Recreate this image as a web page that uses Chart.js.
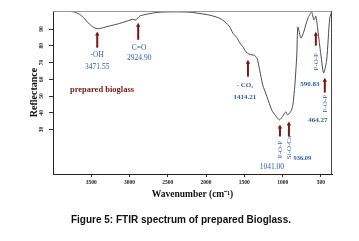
<!DOCTYPE html>
<html lang="en">
<head>
<meta charset="UTF-8">
<title>FTIR spectrum</title>
<script src="https://cdn.jsdelivr.net/npm/chart.js"></script>
<style>
  body { margin: 0; background: #fff; }
  #wrap { position: relative; width: 359px; height: 241px; }
  #caption {
    position: absolute; left: 0; width: 362px; top: 214px;
    text-align: center; font: bold 10px "Liberation Sans", Arial, sans-serif; color: #111;
  }
</style>
</head>
<body>
<div id="wrap">
  <canvas id="chart" width="359" height="241"></canvas>
  <div id="caption">Figure 5: FTIR spectrum of prepared Bioglass.</div>
</div>
<script>
// spectrum
const wavenumbers = [4000, 3900, 3780, 3710, 3640, 3600, 3550, 3500, 3470, 3420, 3380, 3340, 3250, 3160,
  3030, 2960, 2925, 2900, 2860, 2730, 2600, 2400, 2210, 2080, 1950, 1820, 1750, 1690, 1650, 1600,
  1560, 1520, 1480, 1440, 1400, 1370, 1335, 1300, 1260, 1205, 1140, 1090, 1041, 1000, 960, 936,
  895, 866, 840, 815, 800, 762, 725, 670, 620, 592, 566, 540, 500, 464, 425, 385, 360];
const reflectance = [100.6, 100.6, 100.5, 100.1, 98.4, 96.8, 94.2, 92.0, 91.0, 90.2, 90.4, 90.9, 92.0, 93.0,
  94.8, 95.9, 95.4, 96.3, 97.9, 99.3, 100.1, 100.3, 100.1, 99.3, 98.3, 96.4, 94.2, 91.2, 87.6, 85.0,
  81.8, 79.5, 76.5, 75.1, 74.6, 74.4, 72.6, 65.6, 56.7, 49.7, 41.5, 38.2, 35.8, 38.0, 40.6, 38.8,
  40.6, 44.8, 56.7, 74.5, 91.2, 84.6, 88.2, 96.5, 100.1, 95.4, 97.7, 89.4, 74.5, 63.8, 71.5, 96.5, 100.3];

const xTicks = [3500, 3000, 2500, 2000, 1500, 1000, 500];
const yTicks = [30, 40, 50, 60, 70, 80, 90];

// arrows: wavenumber, tail value, head value
const arrows = [
  [3422, 78.9, 88.6],
  [2887, 83.6, 93.8],
  [1453, 61.6, 71.7],
  [566, 80.1, 88.4],
  [449, 52.1, 61.0],
  [1035, 25.9, 33.0],
  [918, 25.9, 34.8]
];
// labels: text, wavenumber, value, rotated, font
const labels = [
  ['-OH', 3422, 74.7, false, '7.5px'],
  ['3471.55', 3422, 67.6, false, '7.5px'],
  ['C=O', 2874, 78.9, false, '7.5px'],
  ['2924.90', 2874, 72.9, false, '7.5px'],
  ['- CO\u2082', 1492, 56.8, false, 'bold 7px'],
  ['1414.21', 1492, 49.1, false, 'bold 7px'],
  ['P-O-P', 566, 70.5, true, '7px'],
  ['590.83', 644, 57.4, false, 'bold 7px'],
  ['P-O-P', 449, 45.5, true, '7px'],
  ['464.27', 540, 35.4, false, 'bold 7px'],
  ['P-O-P', 1035, 18.2, true, '7px'],
  ['Si-O-Ca', 918, 19.3, true, '7px'],
  ['936.09', 742, 12.8, false, 'bold 6.5px'],
  ['1041.00', 1140, 7.4, false, '7.5px']
];

const serif = '"Liberation Serif", "Times New Roman", serif';

const annotate = {
  id: 'annotate',
  afterDatasetsDraw(chart) {
    const {ctx, chartArea: a, scales: {x, y}} = chart;
    ctx.save();
    // frame
    ctx.lineWidth = 1;
    ctx.strokeStyle = '#9a9a9a';
    ctx.beginPath(); ctx.moveTo(a.left, a.top + 0.5); ctx.lineTo(a.right, a.top + 0.5); ctx.stroke();
    ctx.strokeStyle = '#444';
    ctx.beginPath(); ctx.moveTo(a.right - 0.5, a.top); ctx.lineTo(a.right - 0.5, a.bottom); ctx.stroke();

    ctx.strokeStyle = '#7a1616';
    ctx.fillStyle = '#7a1616';
    ctx.lineWidth = 2;
    arrows.forEach(([w, from, to]) => {
      const px = x.getPixelForValue(w);
      const y0 = y.getPixelForValue(from), y1 = y.getPixelForValue(to);
      ctx.beginPath(); ctx.moveTo(px, y0); ctx.lineTo(px, y1 + 3); ctx.stroke();
      ctx.beginPath(); ctx.moveTo(px, y1); ctx.lineTo(px - 2.2, y1 + 4); ctx.lineTo(px + 2.2, y1 + 4); ctx.closePath(); ctx.fill();
    });

    ctx.fillStyle = '#2f5c9e';
    ctx.textAlign = 'center';
    ctx.textBaseline = 'middle';
    labels.forEach(([t, w, v, rot, font]) => {
      const px = x.getPixelForValue(w), py = y.getPixelForValue(v);
      ctx.font = font + ' ' + serif;
      if (rot) {
        ctx.save(); ctx.translate(px, py); ctx.rotate(-Math.PI / 2); ctx.fillText(t, 0, 0); ctx.restore();
      } else {
        ctx.fillText(t, px, py);
      }
    });

    ctx.fillStyle = '#7a1616';
    ctx.font = 'bold 8.5px ' + serif;
    ctx.fillText('prepared bioglass', x.getPixelForValue(3360), y.getPixelForValue(53.5));
    ctx.restore();
  }
};

new Chart(document.getElementById('chart'), {
  type: 'line',
  data: {
    datasets: [{
      data: wavenumbers.map((w, i) => ({x: w, y: reflectance[i]})),
      borderColor: '#4a4a4a',
      borderWidth: 1,
      pointRadius: 0,
      tension: 0.25,
      fill: false
    }]
  },
  options: {
    responsive: false,
    animation: false,
    layout: {padding: {left: 0, right: 27, top: 11, bottom: 37}},
    plugins: {legend: {display: false}, tooltip: {enabled: false}},
    scales: {
      x: {
        type: 'linear',
        reverse: true,
        min: 355,
        max: 4000,
        afterBuildTicks: s => { s.ticks = xTicks.map(v => ({value: v})); },
        afterFit: s => { s.height = 30; },
        grid: {drawOnChartArea: false, tickLength: 3, color: '#333'},
        border: {color: '#222', width: 1},
        ticks: {
          color: '#222', padding: 2, maxRotation: 0, minRotation: 0,
          font: {family: serif, size: 5.5, weight: 'bold'},
          callback: v => String(v)
        },
        title: {
          display: true, text: 'Wavenumber (cm\u207B\u00B9)', color: '#111',
          font: {family: serif, size: 9.5, weight: 'bold'}, padding: {top: 0, bottom: 4}
        }
      },
      y: {
        min: 3.5,
        max: 100.8,
        afterBuildTicks: s => { s.ticks = yTicks.map(v => ({value: v})); },
        afterFit: s => { s.width = 53; },
        grid: {drawOnChartArea: false, tickLength: 4, color: '#333'},
        border: {color: '#222', width: 1},
        ticks: {
          color: '#222', padding: 5, minRotation: 90, maxRotation: 90, crossAlign: 'center',
          font: {family: serif, size: 5.5, weight: 'bold'},
          callback: v => String(v)
        },
        title: {
          display: true, text: 'Reflectance', color: '#111',
          font: {family: serif, size: 10, weight: 'bold'}, padding: {top: 28, bottom: 0}
        }
      }
    }
  },
  plugins: [annotate]
});
</script>
</body>
</html>
